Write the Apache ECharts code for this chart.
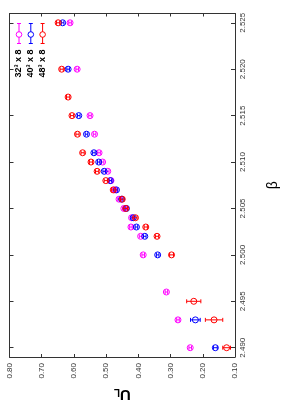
<!DOCTYPE html>
<html><head><meta charset="utf-8">
<script src="https://cdn.jsdelivr.net/npm/echarts@6/dist/echarts.min.js"></script>
<style>html,body{margin:0;padding:0;background:#fff}#c{width:283px;height:403px}</style>
</head><body><div id="c"></div>
<script>
const seriesNames = ['32³ x 8', '40³ x 8', '48³ x 8'];
const colors = ['#ff00ff', '#0000ff', '#ff0000'];

const beta32 = [2.525, 2.520, 2.515, 2.513, 2.511, 2.510, 2.509, 2.508, 2.507, 2.506, 2.505, 2.504, 2.503, 2.502, 2.500, 2.496, 2.493, 2.490];
const ul32   = [0.612, 0.590, 0.550, 0.536, 0.522, 0.511, 0.495, 0.485, 0.473, 0.460, 0.445, 0.421, 0.423, 0.393, 0.385, 0.313, 0.277, 0.239];
const err32  = [0.004, 0.004, 0.004, 0.004, 0.004, 0.004, 0.004, 0.004, 0.004, 0.004, 0.004, 0.004, 0.004, 0.004, 0.004, 0.004, 0.004, 0.004];

const beta40 = [2.525, 2.520, 2.515, 2.513, 2.511, 2.510, 2.509, 2.508, 2.507, 2.506, 2.505, 2.504, 2.503, 2.502, 2.500, 2.493, 2.490];
const ul40   = [0.635, 0.618, 0.585, 0.561, 0.538, 0.523, 0.506, 0.487, 0.468, 0.452, 0.437, 0.416, 0.406, 0.380, 0.340, 0.223, 0.161];
const err40  = [0.004, 0.004, 0.004, 0.004, 0.004, 0.004, 0.004, 0.004, 0.004, 0.004, 0.004, 0.004, 0.004, 0.004, 0.004, 0.015, 0.006];

const beta48 = [2.525, 2.520, 2.517, 2.515, 2.513, 2.511, 2.510, 2.509, 2.508, 2.507, 2.506, 2.505, 2.504, 2.503, 2.502, 2.500, 2.495, 2.493, 2.490];
const ul48   = [0.649, 0.638, 0.618, 0.606, 0.589, 0.573, 0.547, 0.528, 0.501, 0.478, 0.450, 0.439, 0.409, 0.377, 0.342, 0.297, 0.228, 0.165, 0.126];
const err48  = [0.005, 0.005, 0.005, 0.005, 0.005, 0.005, 0.005, 0.005, 0.005, 0.005, 0.005, 0.005, 0.005, 0.005, 0.005, 0.006, 0.022, 0.027, 0.012];

const ulTicks = [0.10, 0.20, 0.30, 0.40, 0.50, 0.60, 0.70, 0.80];
const betaTicks = [2.490, 2.495, 2.500, 2.505, 2.510, 2.515, 2.520, 2.525];

const sets = [[beta32, ul32, err32], [beta40, ul40, err40], [beta48, ul48, err48]];
const axisColor = '#333';
const font = 'Liberation Sans, Arial, sans-serif';

function renderErr(params, api) {
  const u = api.value(0), b = api.value(1), e = api.value(2);
  const p1 = api.coord([u - e, b]), p2 = api.coord([u + e, b]);
  const c = api.visual('color');
  const h = 2;
  const st = { stroke: c, lineWidth: 1 };
  return { type: 'group', children: [
    { type: 'line', shape: { x1: p1[0], y1: p1[1], x2: p2[0], y2: p2[1] }, style: st },
    { type: 'line', shape: { x1: p1[0], y1: p1[1] - h, x2: p1[0], y2: p1[1] + h }, style: st },
    { type: 'line', shape: { x1: p2[0], y1: p2[1] - h, x2: p2[0], y2: p2[1] + h }, style: st }
  ]};
}

const series = [];
sets.forEach((s, i) => {
  const [b, u, e] = s;
  series.push({
    type: 'custom', name: seriesNames[i], renderItem: renderErr,
    itemStyle: { color: colors[i] },
    data: b.map((v, k) => [u[k], v, e[k]]), z: 2 + i, silent: true
  });
  series.push({
    type: 'scatter', name: seriesNames[i], symbol: 'circle', symbolSize: 6,
    itemStyle: { color: 'rgba(0,0,0,0)', borderColor: colors[i], borderWidth: 1, opacity: 1 },
    data: b.map((v, k) => [u[k], v]), z: 2 + i, silent: true
  });
});

// legend drawn as graphic (rotated layout)
const legendGraphics = [];
seriesNames.forEach((n, i) => {
  const x = 19 + i * 11.8;
  const st = { stroke: colors[i], lineWidth: 1 };
  legendGraphics.push(
    { type: 'line', shape: { x1: x, y1: 23.5, x2: x, y2: 43.5 }, style: st },
    { type: 'line', shape: { x1: x - 2, y1: 23.5, x2: x + 2, y2: 23.5 }, style: st },
    { type: 'line', shape: { x1: x - 2, y1: 43.5, x2: x + 2, y2: 43.5 }, style: st },
    { type: 'circle', shape: { cx: x, cy: 34.5, r: 2.8 }, style: { stroke: colors[i], fill: '#fff', lineWidth: 1 } },
    { type: 'text', x: x, y: 63.5, rotation: Math.PI / 2,
      style: { text: n, fill: '#000', font: 'bold 9px ' + font, align: 'center', verticalAlign: 'middle' } }
  );
});

const chart = echarts.init(document.getElementById('c'));
const commonX = {
  type: 'value', min: 0.1, max: 0.8, interval: 0.1, inverse: true,
  axisLine: { show: true, onZero: false, lineStyle: { color: axisColor, width: 1 } },
  axisTick: { show: true, inside: true, length: 3, lineStyle: { color: axisColor } },
  splitLine: { show: false }
};
const commonY = {
  type: 'value', min: 2.489, max: 2.526,
  axisLine: { show: true, onZero: false, lineStyle: { color: axisColor, width: 1 } },
  axisTick: { show: true, inside: true, length: 4, customValues: betaTicks, lineStyle: { color: axisColor } },
  splitLine: { show: false }
};
chart.setOption({
  animation: false,
  backgroundColor: '#fff',
  grid: { left: 9.5, right: 48, top: 13.5, bottom: 46, containLabel: false, outerBoundsMode: 'none' },
  xAxis: [
    Object.assign({}, commonX, {
      position: 'bottom',
      axisLabel: { rotate: 90, fontSize: 8, color: axisColor, fontFamily: font, margin: 6,
        customValues: ulTicks, formatter: v => v.toFixed(2) },
      name: '{u|U}{l|L}', nameLocation: 'middle', nameGap: 29, nameRotate: 180,
      nameTextStyle: { rich: {
        u: { fontSize: 15, fontWeight: 'bold', fontFamily: font, color: '#000' },
        l: { fontSize: 10, fontWeight: 'bold', fontFamily: font, color: '#000', verticalAlign: 'bottom', padding: [6, 0, 0, 0] }
      } }
    }),
    Object.assign({}, commonX, { position: 'top', axisLabel: { show: false } })
  ],
  yAxis: [
    Object.assign({}, commonY, {
      position: 'right',
      axisLabel: { rotate: 90, fontSize: 8, color: axisColor, fontFamily: font, margin: 4,
        customValues: betaTicks, formatter: v => v.toFixed(3) },
      name: 'β', nameLocation: 'middle', nameGap: 31, nameRotate: 90,
      nameTextStyle: { fontSize: 14, fontFamily: font, color: '#000' }
    }),
    Object.assign({}, commonY, { position: 'left', axisLabel: { show: false } })
  ],
  graphic: legendGraphics,
  series: series
});
</script></body></html>
